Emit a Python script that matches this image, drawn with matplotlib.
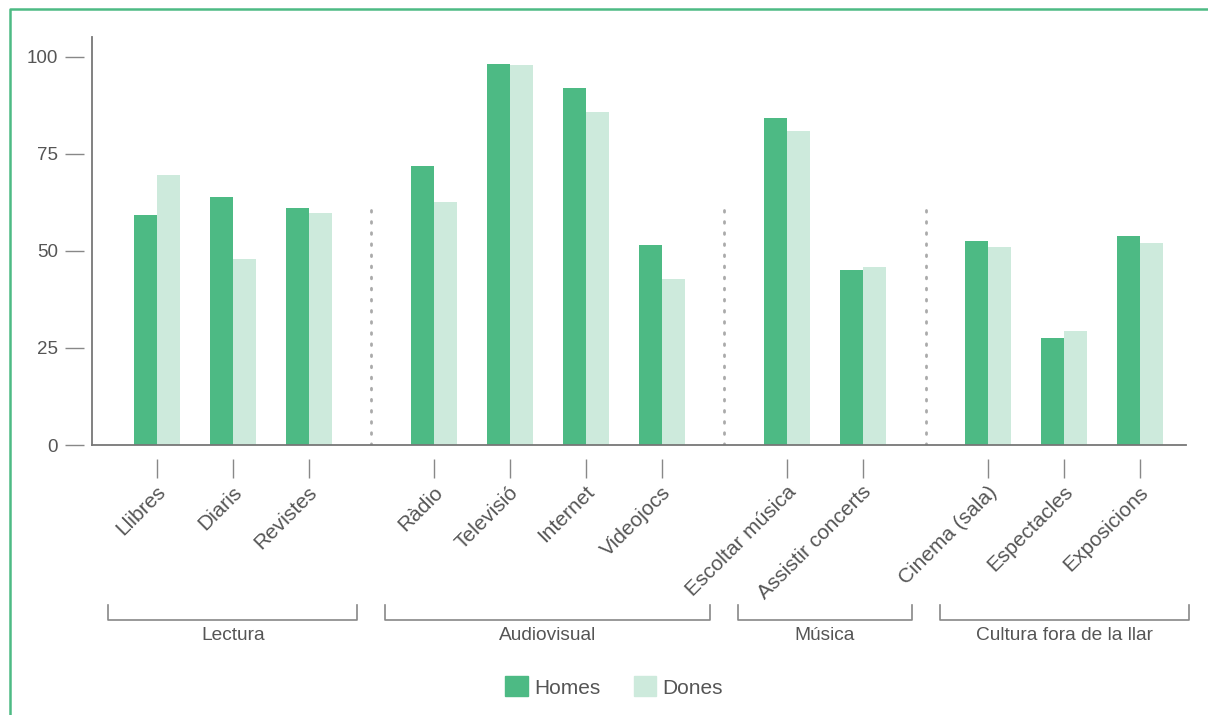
import numpy as np
import matplotlib.pyplot as plt
from matplotlib.lines import Line2D
from matplotlib.patches import Patch
from matplotlib.transforms import blended_transform_factory, ScaledTranslation

plt.rcParams['font.family'] = ['Liberation Sans', 'DejaVu Sans']

# Data
categories = ["Llibres", "Diaris", "Revistes",
              "Ràdio", "Televisió", "Internet", "Videojocs",
              "Escoltar música", "Assistir concerts",
              "Cinema (sala)", "Espectacles", "Exposicions"]
group_of = [0, 0, 0, 1, 1, 1, 1, 2, 2, 3, 3, 3]
groups = ["Lectura", "Audiovisual", "Música", "Cultura fora de la llar"]
homes = [59.3, 63.9, 61.1, 71.9, 98.2, 92.0, 51.5, 84.3, 45.1, 52.6, 27.6, 53.9]
dones = [69.6, 47.9, 59.8, 62.6, 97.9, 85.8, 42.8, 80.9, 45.9, 51.0, 29.4, 52.1]
yticks = [0, 25, 50, 75, 100]

GREEN = "#4dba84"
LIGHT = "#cdeadc"
TXT = "#555555"
AXC = "#777777"

# x positions: unit spacing, extra gap between groups
gap = 0.65
x = np.array([i + gap * g for i, g in enumerate(group_of)])
w = 0.3

fig = plt.figure(figsize=(12.08, 7.15), dpi=100)
W, H = 1208, 715
ax = fig.add_axes([92 / W, 1 - 445 / H, (1186 - 92) / W, (445 - 37) / H])

ax.bar(x - w / 2, homes, w, color=GREEN, label="Homes")
ax.bar(x + w / 2, dones, w, color=LIGHT, label="Dones")

ax.set_ylim(0, 105.15)
ax.set_xlim(x[0] - 0.855, x[-1] + 0.605)

# spines: hide real ones, draw axis lines, keep ticks offset from them
for s in ["top", "right"]:
    ax.spines[s].set_visible(False)
ax.spines["bottom"].set_position(("outward", 10))
ax.spines["left"].set_position(("outward", 6))
ax.spines["bottom"].set_visible(False)
ax.spines["left"].set_visible(False)
ax.axhline(0, color=AXC, lw=1.3, clip_on=False, zorder=3)
ax.axvline(ax.get_xlim()[0], color=AXC, lw=1.3, clip_on=False, zorder=3)

ax.set_yticks(yticks)
ax.set_yticklabels([str(v) for v in yticks], fontsize=13.5, color=TXT)
ax.tick_params(axis="y", length=14, width=1, color="#888888", pad=4.5)

ax.set_xticks(x)
ax.set_xticklabels(categories, fontsize=15, color=TXT, rotation=45,
                   ha="right", va="top", rotation_mode="anchor")
ax.tick_params(axis="x", length=14, width=1, color="#888888", pad=3)
off = ScaledTranslation(-1 / 100, 0, fig.dpi_scale_trans)
for lab in ax.get_xticklabels():
    lab.set_transform(lab.get_transform() + off)

# dotted separators between groups
for g in range(1, len(groups)):
    first = x[group_of.index(g)]
    prev = x[group_of.index(g) - 1]
    sx = (first + prev) / 2
    ax.plot([sx, sx], [0, 62], color="#aaaaaa", lw=2, linestyle=(0, (0.6, 3.4)),
            dash_capstyle="round", zorder=1)

# group brackets
tr = blended_transform_factory(ax.transData, fig.transFigure)
yb0, yb1 = 1 - 620 / H, 1 - 605 / H
for g, name in enumerate(groups):
    gx = x[np.array(group_of) == g]
    x0, x1 = gx[0] - 0.64, gx[-1] + 0.64
    fig.add_artist(Line2D([x0, x0, x1, x1], [yb1, yb0, yb0, yb1], transform=tr,
                          color="#888888", lw=1.2))
    fig.text((x0 + x1) / 2, 1 - 635 / H, name, transform=tr, ha="center", va="center",
             fontsize=13.8, color=TXT)

# legend
handles = [Patch(color=GREEN, label="Homes"), Patch(color=LIGHT, label="Dones")]
leg = fig.legend(handles=handles, loc="center", bbox_to_anchor=(614 / W, 1 - 687 / H),
                 ncol=2, frameon=False, fontsize=15, handlelength=1.1, handleheight=1.1,
                 handletextpad=0.3, columnspacing=1.6)
for t in leg.get_texts():
    t.set_color(TXT)

# green frame lines on left and top
fig.add_artist(Line2D([10 / W, 10 / W, 1], [0, 1 - 9 / H, 1 - 9 / H],
                      transform=fig.transFigure, color=GREEN, lw=1.8))

fig.savefig("out.png", dpi=100, facecolor="white")
